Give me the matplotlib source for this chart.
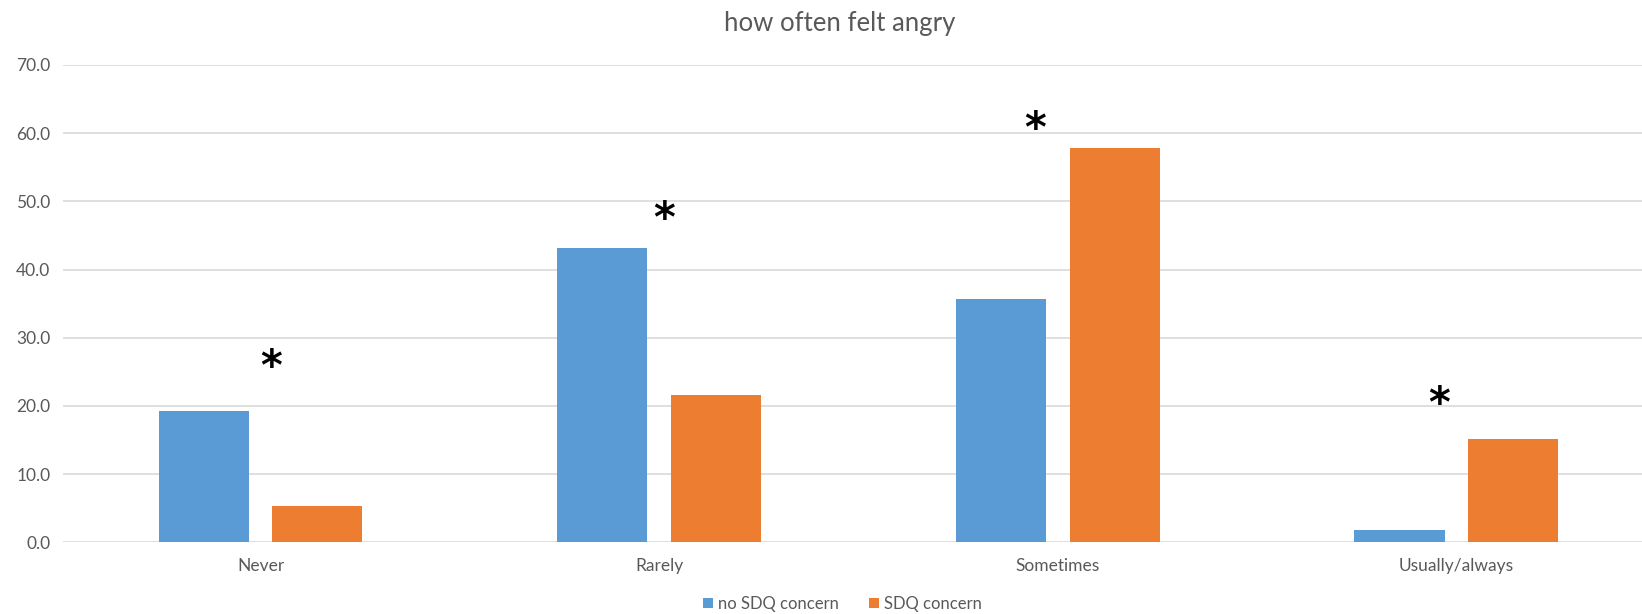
import matplotlib
matplotlib.use("Agg")
import matplotlib.pyplot as plt
import numpy as np
from matplotlib.patches import Patch

categories = ["Never", "Rarely", "Sometimes", "Usually/always"]
no_concern = [19.2, 43.2, 35.7, 1.8]
concern = [5.3, 21.6, 57.8, 15.2]
series_names = ["no SDQ concern", "SDQ concern"]
star_x_offsets = [0.026, 0.013, -0.058, -0.042]
star_y = [25.6, 47.3, 60.4, 20.1]
y_ticks = [0, 10, 20, 30, 40, 50, 60, 70]

plt.rcParams['font.family'] = ['Lato', 'DejaVu Sans']
gray = "#595959"
blue = "#5B9BD5"
orange = "#ED7D31"

fig = plt.figure(figsize=(16.42, 6.14), dpi=100)
ax = fig.add_axes([63/1642, 1 - 542.4/614, 1 - 63/1642, (542.4 - 64.9)/614])

x = np.arange(len(categories))
w = 0.226
off = 0.1425
ax.bar(x - off, no_concern, w, color=blue, zorder=3)
ax.bar(x + off, concern, w, color=orange, zorder=3)

for i in range(len(categories)):
    ax.text(x[i] + star_x_offsets[i], star_y[i], "*", ha="center", va="center",
            fontsize=30, fontweight="bold", color="black", family="DejaVu Sans")

ax.set_xlim(-0.496, 3.466)
ax.set_ylim(0, 70)
ax.set_yticks(y_ticks)
ax.set_yticklabels([f"{v:.1f}" for v in y_ticks])
ax.set_xticks(x)
ax.set_xticklabels(categories)
ax.tick_params(axis="both", length=0, labelcolor=gray)
ax.tick_params(axis="y", labelsize=12.5, pad=9)
ax.tick_params(axis="x", labelsize=12.5, pad=11)
ax.yaxis.grid(True, color="#d9d9d9", linewidth=1.2, zorder=0)
for s in ax.spines.values():
    s.set_visible(False)

fig.text(840/1642, 1 - 23/614, "how often felt angry", ha="center", va="center",
         fontsize=18.5, color=gray)

handles = [Patch(facecolor=blue), Patch(facecolor=orange)]
fig.legend(handles, series_names, loc="center", bbox_to_anchor=(842/1642, 1 - 604/614),
           ncol=2, frameon=False, fontsize=12, labelcolor=gray,
           handlelength=0.6, handleheight=0.6, handletextpad=0.3, columnspacing=1.8)

fig.savefig("out.png", dpi=100)
